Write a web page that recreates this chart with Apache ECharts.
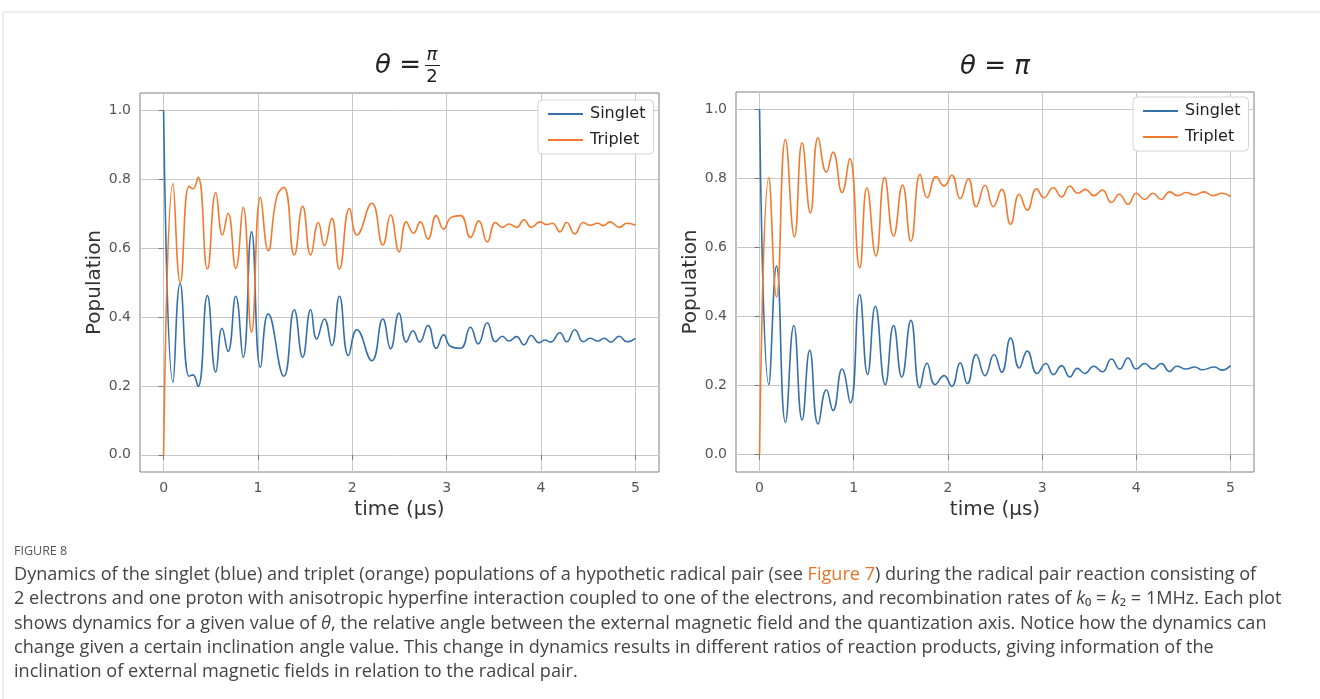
<!DOCTYPE html>
<html>
<head>
<meta charset="utf-8">
<title>Figure 8 - singlet / triplet dynamics</title>
<script src="https://cdn.jsdelivr.net/npm/echarts@6/dist/echarts.min.js"></script>
<style>
  html, body { margin: 0; padding: 0; background: #fff; }
  #chart { width: 1320px; height: 699px; }
</style>
</head>
<body>
<div id="chart"></div>
<script>
// values, [time (us), population]
const tickTimes = [0, 1, 2, 3, 4, 5]
const tickPops = [0, 0.2, 0.4, 0.6, 0.8, 1.0]
const seriesNames = ['Singlet', 'Triplet']

const halfPiSinglet = [
  [0, 1.0], [0.1, 0.21], [0.175, 0.497], [0.27, 0.228], [0.31, 0.232], [0.365, 0.198],
  [0.464, 0.462], [0.553, 0.24], [0.62, 0.367], [0.683, 0.3], [0.765, 0.46], [0.843, 0.283],
  [0.932, 0.647], [1.027, 0.254], [1.109, 0.409], [1.275, 0.228], [1.385, 0.421], [1.474, 0.283],
  [1.559, 0.421], [1.622, 0.336], [1.704, 0.394], [1.782, 0.317], [1.863, 0.46], [1.959, 0.288],
  [2.048, 0.363], [2.207, 0.273], [2.324, 0.394], [2.405, 0.308], [2.495, 0.411], [2.572, 0.327],
  [2.643, 0.36], [2.713, 0.327], [2.802, 0.375], [2.89, 0.309], [2.968, 0.348], [3.04, 0.315],
  [3.146, 0.309], [3.252, 0.37], [3.334, 0.322], [3.43, 0.383], [3.518, 0.328], [3.589, 0.344],
  [3.659, 0.33], [3.741, 0.343], [3.818, 0.319], [3.897, 0.346], [3.978, 0.325], [4.04, 0.333],
  [4.1, 0.327], [4.2, 0.354], [4.272, 0.328], [4.357, 0.363], [4.449, 0.328], [4.52, 0.338],
  [4.6, 0.33], [4.67, 0.338], [4.74, 0.327], [4.828, 0.344], [4.91, 0.328], [5.0, 0.338]
]
const halfPiTriplet = [
  [0, 0.0], [0.1, 0.787], [0.177, 0.5], [0.269, 0.779], [0.31, 0.772], [0.365, 0.805],
  [0.464, 0.539], [0.553, 0.761], [0.624, 0.638], [0.683, 0.701], [0.765, 0.541], [0.843, 0.718],
  [0.932, 0.356], [1.027, 0.747], [1.109, 0.592], [1.2, 0.75], [1.275, 0.776], [1.385, 0.58],
  [1.474, 0.721], [1.559, 0.58], [1.64, 0.674], [1.704, 0.607], [1.782, 0.686], [1.863, 0.539],
  [1.97, 0.715], [2.048, 0.638], [2.207, 0.73], [2.324, 0.609], [2.405, 0.696], [2.497, 0.589],
  [2.572, 0.676], [2.649, 0.643], [2.72, 0.676], [2.802, 0.626], [2.89, 0.694], [2.968, 0.655],
  [3.047, 0.689], [3.146, 0.694], [3.252, 0.631], [3.34, 0.679], [3.43, 0.618], [3.518, 0.674],
  [3.589, 0.66], [3.659, 0.67], [3.741, 0.66], [3.818, 0.682], [3.897, 0.66], [3.99, 0.676],
  [4.06, 0.668], [4.12, 0.672], [4.2, 0.647], [4.272, 0.674], [4.357, 0.641], [4.449, 0.674],
  [4.52, 0.666], [4.6, 0.672], [4.66, 0.665], [4.73, 0.676], [4.828, 0.66], [4.91, 0.672], [5.0, 0.666]
]
const piSinglet = [
  [0, 1.0], [0.099, 0.203], [0.18, 0.546], [0.275, 0.094], [0.364, 0.374], [0.452, 0.101],
  [0.533, 0.302], [0.622, 0.089], [0.71, 0.188], [0.78, 0.128], [0.876, 0.248], [0.964, 0.15],
  [1.063, 0.464], [1.147, 0.232], [1.229, 0.43], [1.335, 0.203], [1.423, 0.374], [1.51, 0.225],
  [1.607, 0.389], [1.702, 0.194], [1.778, 0.265], [1.864, 0.203], [1.96, 0.229], [2.04, 0.198],
  [2.13, 0.266], [2.207, 0.206], [2.3, 0.29], [2.394, 0.229], [2.49, 0.29], [2.571, 0.239],
  [2.666, 0.338], [2.758, 0.251], [2.842, 0.3], [2.948, 0.235], [3.04, 0.264], [3.12, 0.232],
  [3.207, 0.258], [3.294, 0.225], [3.376, 0.25], [3.453, 0.235], [3.549, 0.256], [3.64, 0.24],
  [3.736, 0.277], [3.825, 0.248], [3.912, 0.28], [4.0, 0.248], [4.089, 0.264], [4.177, 0.248],
  [4.265, 0.264], [4.354, 0.241], [4.43, 0.256], [4.53, 0.248], [4.62, 0.254], [4.7, 0.246],
  [4.83, 0.254], [4.91, 0.245], [5.0, 0.258]
]
const piTriplet = [
  [0, 0.0], [0.099, 0.802], [0.18, 0.457], [0.275, 0.913], [0.371, 0.631], [0.452, 0.903],
  [0.54, 0.7], [0.622, 0.918], [0.71, 0.818], [0.78, 0.876], [0.876, 0.759], [0.957, 0.857],
  [1.063, 0.541], [1.14, 0.773], [1.236, 0.575], [1.328, 0.802], [1.423, 0.633], [1.518, 0.781],
  [1.607, 0.618], [1.706, 0.812], [1.78, 0.744], [1.875, 0.805], [1.96, 0.778], [2.04, 0.809],
  [2.13, 0.741], [2.217, 0.799], [2.3, 0.718], [2.394, 0.78], [2.482, 0.718], [2.571, 0.768],
  [2.666, 0.667], [2.758, 0.754], [2.842, 0.708], [2.942, 0.77], [3.019, 0.744], [3.118, 0.773],
  [3.207, 0.746], [3.294, 0.778], [3.38, 0.757], [3.46, 0.768], [3.549, 0.75], [3.64, 0.766],
  [3.736, 0.73], [3.82, 0.754], [3.912, 0.725], [4.0, 0.757], [4.089, 0.739], [4.177, 0.757],
  [4.265, 0.739], [4.354, 0.761], [4.44, 0.75], [4.53, 0.759], [4.62, 0.752], [4.72, 0.761],
  [4.81, 0.75], [4.91, 0.757], [5.0, 0.747]
]

const captionLines = [
  'Dynamics of the singlet (blue) and triplet (orange) populations of a hypothetic radical pair (see {link|Figure 7}) during the radical pair reaction consisting of',
  '2 electrons and one proton with anisotropic hyperfine interaction coupled to one of the electrons, and recombination rates of {it|k}₀ = {it|k}₂ = 1MHz. Each plot',
  'shows dynamics for a given value of {it|θ}, the relative angle between the external magnetic field and the quantization axis. Notice how the dynamics can',
  'change given a certain inclination angle value. This change in dynamics results in different ratios of reaction products, giving information of the',
  'inclination of external magnetic fields in relation to the radical pair.'
]

const BLUE = '#3570ab'
const ORANGE = '#f27a2f'
const FONT = 'DejaVu Sans'
const CAP_FONT = 'Open Sans'
const CAP_SIZE = 18.1

const grids = [
  { left: 140, top: 93, width: 519, height: 379 },
  { left: 736, top: 92, width: 518, height: 380 },
]

function xAxisFor(i) {
  return {
    type: 'value', gridIndex: i, min: -0.25, max: 5.25,
    name: 'time (μs)', nameLocation: 'middle', nameGap: 17,
    nameTextStyle: { fontFamily: FONT, fontSize: 20, color: '#333' },
    axisLine: { show: false },
    axisTick: { show: true, length: 5, customValues: tickTimes, lineStyle: { color: '#777' } },
    axisLabel: { customValues: tickTimes, margin: 9, fontFamily: FONT, fontSize: 14, color: '#555' },
    splitLine: { show: true, lineStyle: { color: '#c8c8c8', width: 1 } },
  }
}

function yAxisFor(i) {
  return {
    type: 'value', gridIndex: i, min: -0.05, max: 1.05,
    name: 'Population', nameLocation: 'middle', nameGap: 33,
    nameTextStyle: { fontFamily: FONT, fontSize: 20, color: '#333' },
    axisLine: { show: false },
    axisTick: { show: true, length: 5, customValues: tickPops, lineStyle: { color: '#777' } },
    axisLabel: {
      customValues: tickPops, margin: 9, fontFamily: FONT, fontSize: 14, color: '#555',
      formatter: v => v.toFixed(1),
    },
    splitLine: { show: true, lineStyle: { color: '#c8c8c8', width: 1 } },
  }
}

function lineSeries(name, data, color, i) {
  return {
    type: 'line', name, data, xAxisIndex: i, yAxisIndex: i,
    showSymbol: false, symbol: 'none', smooth: 0.5,
    lineStyle: { color, width: 1.6 }, itemStyle: { color },
  }
}

function legendFor(left, top) {
  return {
    data: seriesNames, orient: 'vertical', left, top,
    icon: 'rect', itemWidth: 35, itemHeight: 2, itemGap: 10,
    padding: [6, 8, 6, 10], backgroundColor: '#fff',
    borderColor: '#d4d4d4', borderWidth: 1, borderRadius: 4,
    textStyle: { fontFamily: FONT, fontSize: 16, color: '#222', padding: [0, 0, 0, 2] },
  }
}

const chart = echarts.init(document.getElementById('chart'))

const captionGraphics = captionLines.map((line, k) => ({
  type: 'text', left: 14, top: 566 + k * 24.3,
  style: {
    text: line, fontFamily: CAP_FONT, fontSize: CAP_SIZE, fill: '#444',
    rich: {
      link: { fontFamily: CAP_FONT, fontSize: CAP_SIZE, fill: '#e8742a' },
      it: { fontFamily: CAP_FONT, fontSize: CAP_SIZE, fontStyle: 'italic', fill: '#444' },
    },
  },
}))

chart.setOption({
  backgroundColor: '#fff',
  animation: false,
  grid: grids.map(g => Object.assign({ show: true, borderColor: '#808080', borderWidth: 1, backgroundColor: 'transparent' }, g)),
  xAxis: [xAxisFor(0), xAxisFor(1)],
  yAxis: [yAxisFor(0), yAxisFor(1)],
  legend: [legendFor(538, 100), legendFor(1133, 97)],
  series: [
    lineSeries('Singlet', halfPiSinglet, BLUE, 0),
    lineSeries('Triplet', halfPiTriplet, ORANGE, 0),
    lineSeries('Singlet', piSinglet, BLUE, 1),
    lineSeries('Triplet', piTriplet, ORANGE, 1),
  ],
  graphic: [
    // panel border
    { type: 'line', shape: { x1: 3, y1: 12, x2: 1320, y2: 12 }, style: { stroke: '#dcdcdc', lineWidth: 1 } },
    { type: 'line', shape: { x1: 3, y1: 12, x2: 3, y2: 699 }, style: { stroke: '#dcdcdc', lineWidth: 1 } },
    // title left: theta = pi / 2
    { type: 'text', x: 421, y: 66, style: { text: 'θ =', fontFamily: FONT, fontSize: 26, fontStyle: 'italic', fill: '#222', align: 'right', verticalAlign: 'middle' } },
    { type: 'text', x: 432, y: 55, style: { text: 'π', fontFamily: FONT, fontSize: 18, fontStyle: 'italic', fill: '#222', align: 'center', verticalAlign: 'middle' } },
    { type: 'rect', shape: { x: 425, y: 65, width: 15, height: 1 }, style: { fill: '#222' } },
    { type: 'text', x: 432, y: 77, style: { text: '2', fontFamily: FONT, fontSize: 18, fill: '#222', align: 'center', verticalAlign: 'middle' } },
    // title right: theta = pi
    { type: 'text', x: 995, y: 67, style: { text: '{i|θ} = {i|π}', fontFamily: FONT, fontSize: 26, fill: '#222', align: 'center', verticalAlign: 'middle',
      rich: { i: { fontFamily: FONT, fontSize: 26, fontStyle: 'italic', fill: '#222' } } } },
    // caption
    { type: 'text', left: 14, top: 545, style: { text: 'FIGURE 8', fontFamily: CAP_FONT, fontSize: 12.5, fill: '#555' } },
  ].concat(captionGraphics),
})
</script>
</body>
</html>
